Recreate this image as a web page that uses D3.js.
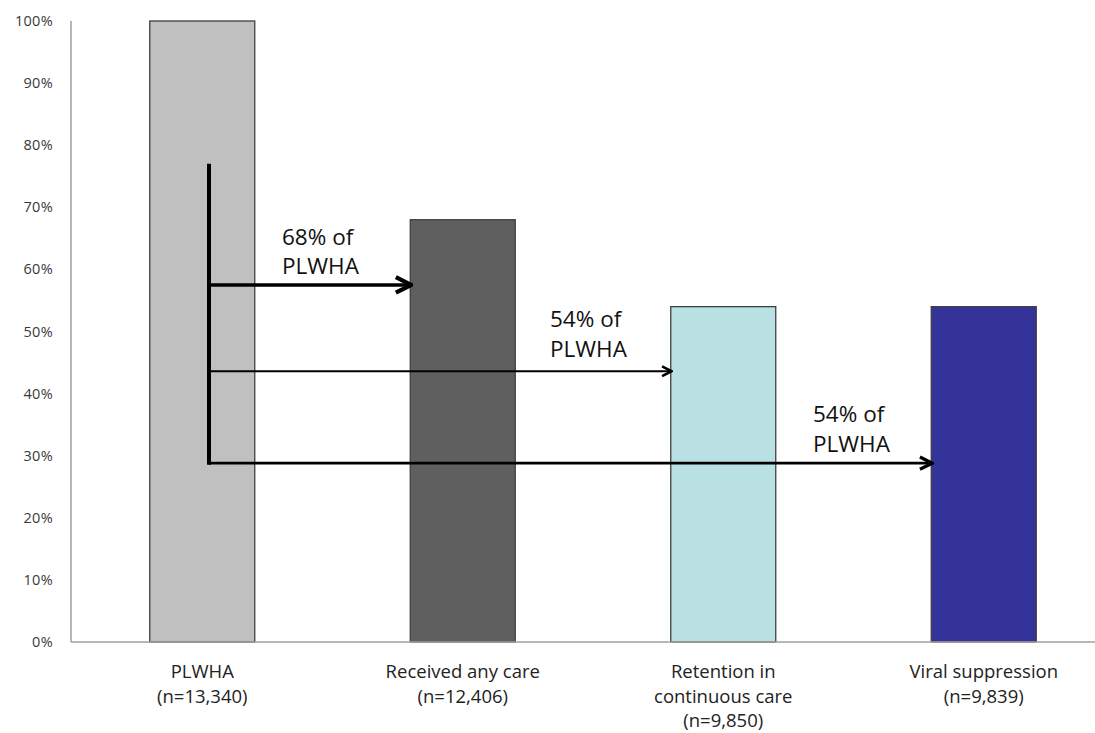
<!DOCTYPE html>
<html>
<head>
<meta charset="utf-8">
<script src="https://cdn.jsdelivr.net/npm/d3@7"></script>
<style>
  body { margin: 0; background: #fff; }
  svg { display: block; font-family: "Open Sans", sans-serif; }
</style>
</head>
<body>
<svg id="chart" width="1095" height="733"></svg>
<script>
// ----------- Data ------------
const categories = ["PLWHA", "Received any care", "Retention in continuous care", "Viral suppression"];
const labelLines = [
  ["PLWHA", "(n=13,340)"],
  ["Received any care", "(n=12,406)"],
  ["Retention in", "continuous care", "(n=9,850)"],
  ["Viral suppression", "(n=9,839)"]
];
const values = [100, 68, 54, 54];
const barColors = ["#c0c0c0", "#5f5f5f", "#b9e0e3", "#333399"];
const yTicks = [0, 10, 20, 30, 40, 50, 60, 70, 80, 90, 100];

// arrows from the PLWHA bar: target category, level (%), label
const arrowTargets = [1, 2, 3];
const arrowLevels = [57.5, 43.6, 28.8];
const arrowLabels = [["68% of", "PLWHA"], ["54% of", "PLWHA"], ["54% of", "PLWHA"]];
const stemTop = 77;

// ----------- Layout ------------
const svg = d3.select("#chart");
const mLeft = 71, mTop = 21, mBottom = 642;
const step = 260.5;

const x = d3.scaleBand()
  .domain(categories)
  .range([mLeft + 1, mLeft + 1 + 4 * step])
  .padding(0);

const barW = 105;

const y = d3.scaleLinear()
  .domain([0, 100])
  .range([mBottom, mTop]);

// y tick labels
svg.append("g")
  .selectAll("text")
  .data(yTicks)
  .enter()
  .append("text")
  .attr("x", 53)
  .attr("y", d => y(d) + 5)
  .attr("text-anchor", "end")
  .style("font-size", "14.5px")
  .style("letter-spacing", "0.3px")
  .attr("fill", "#3a3a3a")
  .text(d => d + "%");

// bars
svg.append("g")
  .selectAll("rect")
  .data(values)
  .enter()
  .append("rect")
  .attr("x", (d, i) => x(categories[i]) + x.bandwidth() / 2 - barW / 2)
  .attr("y", d => y(d))
  .attr("width", barW)
  .attr("height", d => mBottom - y(d))
  .attr("fill", (d, i) => barColors[i])
  .attr("stroke", "#404040")
  .attr("stroke-width", 1.3);

// axes lines
svg.append("line")
  .attr("x1", mLeft).attr("x2", mLeft)
  .attr("y1", mTop).attr("y2", mBottom)
  .attr("stroke", "#a0a0a0").attr("stroke-width", 1.5);
svg.append("line")
  .attr("x1", mLeft).attr("x2", 1095)
  .attr("y1", mBottom).attr("y2", mBottom)
  .attr("stroke", "#a0a0a0").attr("stroke-width", 1.5);

// x labels
const xl = svg.append("g")
  .selectAll("text")
  .data(labelLines)
  .enter()
  .append("text")
  .attr("text-anchor", "middle")
  .attr("transform", (d, i) => `translate(${x(categories[i]) + x.bandwidth() / 2},0)`)
  .style("font-size", "18.5px")
  .attr("fill", "#222");
xl.selectAll("tspan")
  .data(d => d)
  .enter()
  .append("tspan")
  .attr("x", 0)
  .attr("y", (d, j) => 678 + j * 24.5)
  .text(d => d);

// arrowhead
svg.append("defs").append("marker")
  .attr("id", "head")
  .attr("viewBox", "0 0 10 10")
  .attr("refX", 9).attr("refY", 5)
  .attr("markerWidth", 5.5).attr("markerHeight", 6.5)
  .attr("markerUnits", "strokeWidth")
  .attr("orient", "auto")
  .append("path")
  .attr("d", "M1,1 L9,5 L1,9")
  .attr("fill", "none")
  .attr("stroke", "#000")
  .attr("stroke-width", 2.2);

const stemX = 209;
svg.append("line")
  .attr("x1", stemX).attr("x2", stemX)
  .attr("y1", y(stemTop)).attr("y2", y(arrowLevels[2]) + 1.5)
  .attr("stroke", "#000").attr("stroke-width", 4);

const arrowWidths = [3.5, 2.2, 2.8];
const labelX = [282, 550, 813];
const labelDy = [-40, -44, -41];
arrowTargets.forEach((t, i) => {
  const tipX = x(categories[t]) + x.bandwidth() / 2 - barW / 2 + 1;
  const ay = y(arrowLevels[i]);
  svg.append("line")
    .attr("x1", stemX).attr("x2", tipX)
    .attr("y1", ay).attr("y2", ay)
    .attr("stroke", "#000")
    .attr("stroke-width", arrowWidths[i])
    .attr("marker-end", "url(#head)");

  const lbl = svg.append("text")
    .style("font-size", "22.5px")
    .attr("fill", "#111");
  arrowLabels[i].forEach((s, j) => {
    lbl.append("tspan")
      .attr("x", labelX[i])
      .attr("y", ay + labelDy[i] + j * 29.5)
      .text(s);
  });
});
</script>
</body>
</html>
